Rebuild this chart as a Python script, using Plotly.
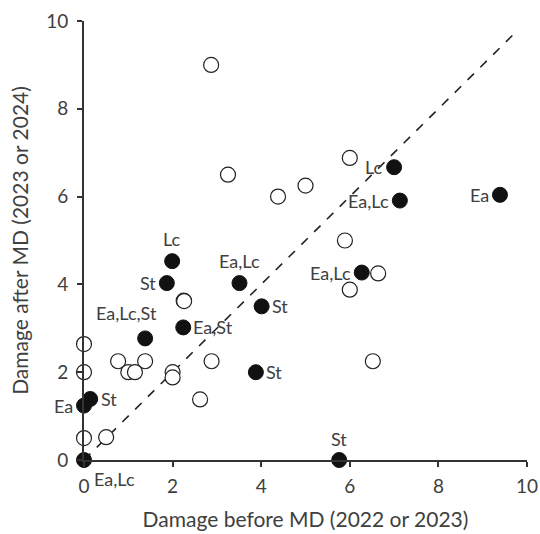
import plotly.graph_objects as go

# ---- data ----
open_x = [2.87, 3.25, 4.38, 5.0, 6.0, 5.89, 6.64, 6.0, 6.52, 2.88, 2.62, 2.25, 2.26,
          0.0, 0.0, 0.77, 1.38, 1.0, 1.15, 2.0, 2.0, 0.0, 0.5]
open_y = [9.0, 6.5, 6.0, 6.25, 6.88, 5.0, 4.25, 3.88, 2.25, 2.25, 1.38, 3.63, 3.62,
          2.64, 2.0, 2.25, 2.25, 2.0, 2.0, 2.0, 1.88, 0.5, 0.52]

closed_x = [0.0, 0.0, 0.14, 1.38, 2.24, 1.87, 1.99, 3.51, 4.01, 3.88, 5.76, 6.27, 7.0, 7.13, 9.39]
closed_y = [0.0, 1.24, 1.39, 2.77, 3.02, 4.03, 4.53, 4.03, 3.5, 2.0, 0.0, 4.27, 6.67, 5.91, 6.04]
closed_labels = ["Ea,Lc", "Ea", "St", "Ea,Lc,St", "Ea,St", "St", "Lc", "Ea,Lc", "St", "St",
                 "St", "Ea,Lc", "Lc", "Ea,Lc", "Ea"]

line_x = [0, 9.75]
line_y = [0, 9.75]

x_title = "Damage before MD (2022 or 2023)"
y_title = "Damage after MD (2023 or 2024)"

# ---- style: label placement (anchor, xshift, yshift) ----
label_style = [
    ("left", "top", 8, -6),       # Ea,Lc at 0,0
    ("right", "middle", -9, 0),   # Ea
    ("left", "middle", 9, 0),     # St
    ("center", "bottom", -19, 12),  # Ea,Lc,St
    ("left", "middle", 8, 0),     # Ea,St
    ("right", "middle", -9, 0),   # St
    ("center", "bottom", 0, 9),   # Lc
    ("center", "bottom", 0, 9),   # Ea,Lc
    ("left", "middle", 8, 0),     # St
    ("left", "middle", 8, 0),     # St
    ("center", "bottom", 0, 8),   # St at 5.76,0
    ("right", "middle", -9, 0),   # Ea,Lc
    ("right", "middle", -9, 0),   # Lc
    ("right", "middle", -9, 0),   # Ea,Lc
    ("right", "middle", -9, 0),   # Ea
]

FONT = "Lato, 'Open Sans', sans-serif"
TXT = "#404040"
AX = "#333333"

fig = go.Figure()
fig.add_trace(go.Scatter(x=line_x, y=line_y, mode="lines",
                         line=dict(color="#222222", width=1.6, dash="dash"),
                         hoverinfo="skip", cliponaxis=False))
fig.add_trace(go.Scatter(x=open_x, y=open_y, mode="markers",
                         marker=dict(size=15, color="white", line=dict(color="#222222", width=1.2)),
                         cliponaxis=False))
fig.add_trace(go.Scatter(x=closed_x, y=closed_y, mode="markers",
                         marker=dict(size=15, color="#111111", line=dict(color="#111111", width=1)),
                         cliponaxis=False))

for x, y, t, (xa, ya, xs, ys) in zip(closed_x, closed_y, closed_labels, label_style):
    fig.add_annotation(x=x, y=y, text=t, showarrow=False, xanchor=xa, yanchor=ya,
                       xshift=xs, yshift=ys, font=dict(family=FONT, size=18, color=TXT))

axis_common = dict(range=[0, 10], dtick=2, showgrid=False, zeroline=False,
                   showline=True, linecolor=AX, linewidth=1.8,
                   ticks="outside", ticklen=5, tickwidth=1.5, tickcolor=AX,
                   automargin=False,
                   tickfont=dict(family=FONT, size=19, color=TXT))

fig.update_layout(
    width=540, height=534,
    margin=dict(l=84, r=13, t=21, b=74),
    paper_bgcolor="white", plot_bgcolor="white",
    showlegend=False,
    xaxis=dict(**axis_common, ticklabelstandoff=3,
               title=dict(text=x_title, font=dict(family=FONT, size=21, color=TXT), standoff=17)),
    yaxis=dict(**axis_common, ticklabelstandoff=5,
               title=dict(text=y_title, font=dict(family=FONT, size=21, color=TXT), standoff=12)),
)

fig.write_html("out.html", config={"displayModeBar": False},
               post_script="document.body.style.margin='0';")
